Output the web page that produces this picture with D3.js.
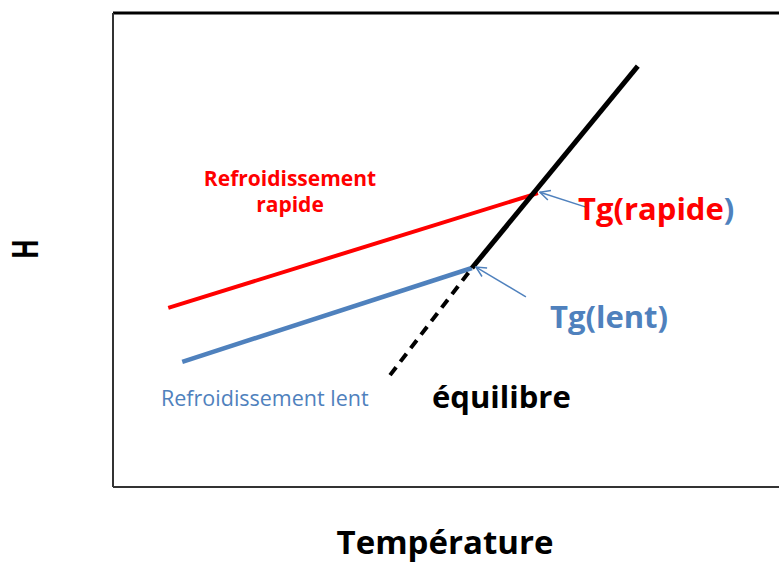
<!DOCTYPE html>
<html>
<head>
<meta charset="utf-8">
<script src="https://cdn.jsdelivr.net/npm/d3@7"></script>
<style>
  body { margin: 0; background: #fff; }
  text { font-family: "Open Sans", sans-serif; }
</style>
</head>
<body>
<script>
// chart data (arbitrary units: temperature vs enthalpy)
const equilibre = [[53.9, 46.2], [78.8, 88.8]];
const equilibreDashed = [[41.6, 23.6], [53.9, 46.2]];
const rapide = [[8.3, 37.8], [63.8, 62.0]];
const lent = [[10.4, 26.4], [53.9, 46.2]];
const arrowRapide = [[70.9, 59.1], [64.1, 62.2]];
const arrowLent = [[62.0, 40.1], [54.5, 46.4]];

const red = "#ff0000", blue = "#4f81bd";

const W = 779, H = 563;
const margin = {top: 13, right: 0, bottom: 76, left: 113};

const svg = d3.select("body").append("svg")
    .attr("width", W)
    .attr("height", H);

const x = d3.scaleLinear().domain([0, 100]).range([margin.left, W - margin.right]);
const y = d3.scaleLinear().domain([0, 100]).range([H - margin.bottom, margin.top]);

const line = d3.line().x(d => x(d[0])).y(d => y(d[1]));

// frame: left, top, bottom (right edge is cut off)
svg.append("line")
    .attr("x1", x(0)).attr("x2", x(100))
    .attr("y1", y(100)).attr("y2", y(100))
    .attr("stroke", "#000").attr("stroke-width", 3);
svg.append("line")
    .attr("x1", x(0)).attr("x2", x(0))
    .attr("y1", y(100)).attr("y2", y(0))
    .attr("stroke", "#333").attr("stroke-width", 2);
svg.append("line")
    .attr("x1", x(0)).attr("x2", x(100))
    .attr("y1", y(0)).attr("y2", y(0))
    .attr("stroke", "#333").attr("stroke-width", 2);

// arrow marker
svg.append("defs").append("marker")
    .attr("id", "arr")
    .attr("viewBox", "0 0 12 12")
    .attr("refX", 11).attr("refY", 6)
    .attr("markerWidth", 12).attr("markerHeight", 12)
    .attr("markerUnits", "userSpaceOnUse")
    .attr("orient", "auto")
  .append("path")
    .attr("d", "M1,1 L11,6 L1,11")
    .attr("fill", "none")
    .attr("stroke", blue)
    .attr("stroke-width", 1.5);

// lines
svg.append("path").datum(rapide)
    .attr("d", line).attr("fill", "none")
    .attr("stroke", red).attr("stroke-width", 4);
svg.append("path").datum(lent)
    .attr("d", line).attr("fill", "none")
    .attr("stroke", blue).attr("stroke-width", 4.5);
svg.append("path").datum(equilibreDashed)
    .attr("d", line).attr("fill", "none")
    .attr("stroke", "#000").attr("stroke-width", 4)
    .attr("stroke-dasharray", "10,7");
svg.append("path").datum(equilibre)
    .attr("d", line).attr("fill", "none")
    .attr("stroke", "#000").attr("stroke-width", 5);

// arrows
[arrowRapide, arrowLent].forEach(a => {
  svg.append("path").datum(a)
      .attr("d", line).attr("fill", "none")
      .attr("stroke", blue).attr("stroke-width", 1.5)
      .attr("marker-end", "url(#arr)");
});

// labels
svg.append("text")
    .attr("x", 290).attr("y", 186)
    .attr("text-anchor", "middle")
    .attr("fill", red).style("font-size", "21px").style("font-weight", "bold")
    .text("Refroidissement");
svg.append("text")
    .attr("x", 290).attr("y", 212)
    .attr("text-anchor", "middle")
    .attr("fill", red).style("font-size", "21px").style("font-weight", "bold")
    .text("rapide");

svg.append("text")
    .attr("x", 161).attr("y", 406)
    .attr("fill", blue).style("font-size", "21.5px")
    .text("Refroidissement lent");

const tgr = svg.append("text")
    .attr("x", 578).attr("y", 220)
    .style("font-size", "31px").style("font-weight", "bold");
tgr.append("tspan").attr("fill", red).text("Tg(rapide");
tgr.append("tspan").attr("fill", blue).text(")");

svg.append("text")
    .attr("x", 550).attr("y", 328)
    .attr("fill", blue)
    .style("font-size", "31px").style("font-weight", "bold")
    .text("Tg(lent)");

svg.append("text")
    .attr("x", 432).attr("y", 408)
    .attr("fill", "#000")
    .style("font-size", "31px").style("font-weight", "bold")
    .text("équilibre");

// axis titles
svg.append("text")
    .attr("text-anchor", "middle")
    .attr("transform", "translate(38,249) rotate(-90) scale(1,1.4)")
    .style("font-size", "26px").style("font-weight", "bold")
    .text("H");

svg.append("text")
    .attr("x", 445).attr("y", 554)
    .attr("text-anchor", "middle")
    .style("font-size", "33px").style("font-weight", "bold")
    .text("Température");
</script>
</body>
</html>
